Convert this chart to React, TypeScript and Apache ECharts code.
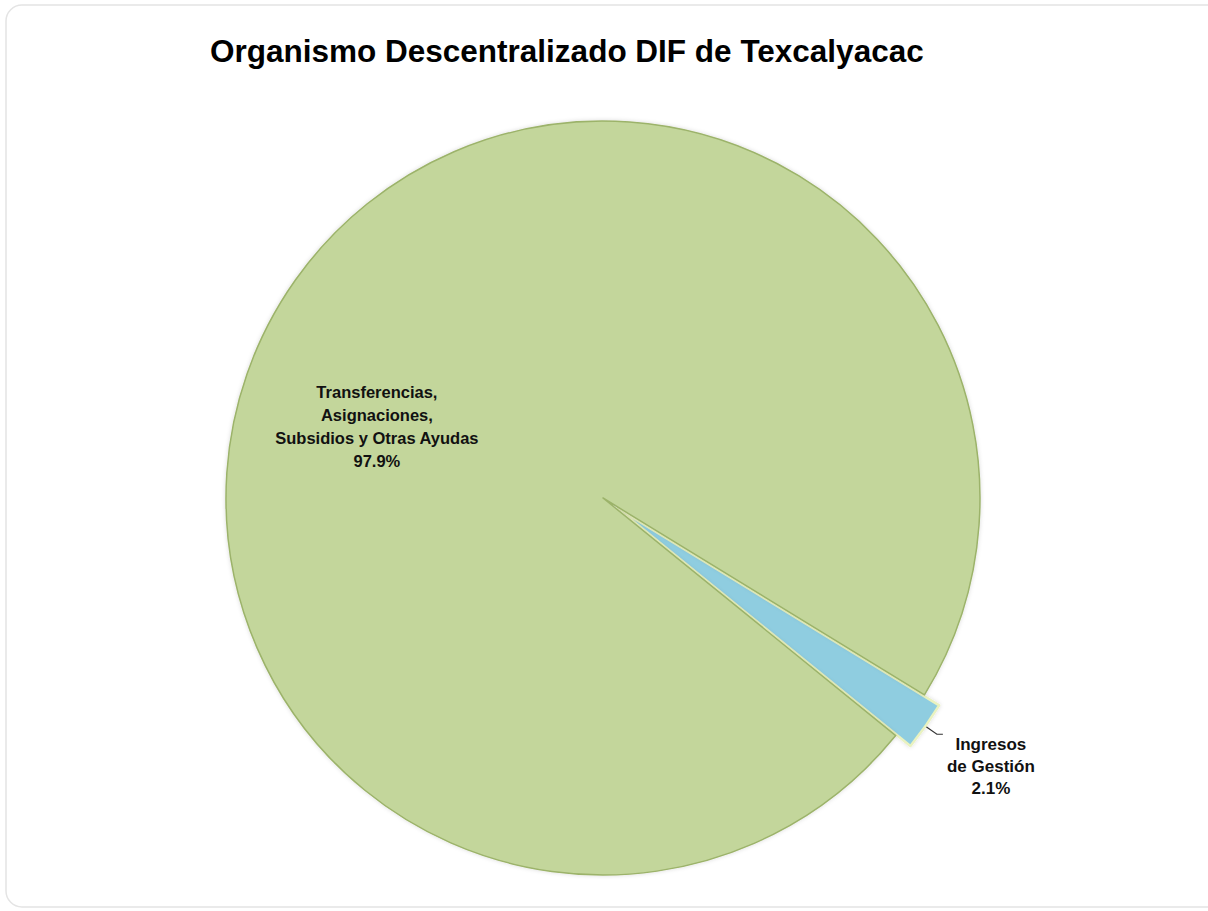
import React, { useEffect, useRef } from "react";
import * as echarts from "echarts";

const title = "Organismo Descentralizado DIF de Texcalyacac";
const categories = ["Transferencias,\nAsignaciones,\nSubsidios y Otras Ayudas", "Ingresos\nde Gestión"];
const shares = [97.9, 2.1];
const sliceColors = ["#C3D69B", "#8FCDE0"];

export default function App() {
  const ref = useRef<HTMLDivElement>(null);
  useEffect(() => {
    if (!ref.current) return;
    const chart = echarts.init(ref.current, null, { renderer: "svg" });
    const W = 1208;
    const H = 911;
    chart.setOption({
      animation: false,
      backgroundColor: "#ffffff",
      textStyle: { fontFamily: "Liberation Sans, Arial, sans-serif" },
      title: {
        text: title,
        left: 205,
        top: 30,
        textStyle: { fontSize: 31.5, fontWeight: "bold", color: "#000", fontFamily: "Liberation Sans, Arial, sans-serif" },
      },
      graphic: [
        {
          type: "rect",
          shape: { x: 6, y: 5, width: 1220, height: 902, r: 16 },
          style: { fill: "none", stroke: "#e4e4e4", lineWidth: 1.5 },
          silent: true,
          z: -1,
        },
      ],
      series: [
        {
          type: "pie",
          center: [603, 498],
          radius: [0, 377],
          startAngle: 328.5,
          clockwise: true,
          selectedMode: "single",
          selectedOffset: 18,
          emphasis: { disabled: true },
          avoidLabelOverlap: false,
          itemStyle: {
            shadowBlur: 4,
            shadowColor: "rgba(0,0,0,0.15)",
          },
          labelLine: {
            show: true,
            length: 14,
            length2: 6,
            lineStyle: { color: "#333333", width: 1.2 },
          },
          labelLayout: (params: any) => {
            if (params.dataIndex === 1) {
              return { x: W * 0.312, y: H * 0.4687 };
            }
            return { dy: 32 };
          },
          data: [
            {
              name: categories[1],
              value: shares[1],
              selected: true,
              itemStyle: { color: sliceColors[1], borderColor: "#E9F2C0", borderWidth: 2.5 },
              label: {
                show: true,
                position: "outside",
                formatter: (p: any) =>
                  p.name
                    .split("\n")
                    .map((s: string) => "{a|" + s + "}")
                    .join("\n") + "\n{a|" + p.value.toFixed(1) + "%}",
                rich: {
                  a: {
                    width: 86,
                    align: "center",
                    fontSize: 17,
                    fontWeight: "bold",
                    color: "#111",
                    lineHeight: 22,
                    fontFamily: "Liberation Sans, Arial, sans-serif",
                  },
                },
              },
            },
            {
              name: categories[0],
              value: shares[0],
              itemStyle: { color: sliceColors[0], borderColor: "#9CB36A", borderWidth: 1.5 },
              labelLine: { show: false },
              label: {
                show: true,
                position: "inside",
                formatter: (p: any) => p.name + "\n" + p.value.toFixed(1) + "%",
                fontSize: 16.5,
                fontWeight: "bold",
                color: "#111",
                lineHeight: 23,
                align: "center",
                fontFamily: "Liberation Sans, Arial, sans-serif",
              },
            },
          ],
        },
      ],
    });
    return () => chart.dispose();
  }, []);
  return (
    <div
      ref={ref}
      style={{ position: "fixed", left: 0, top: 0, width: 1208, height: 911 }}
    />
  );
}
